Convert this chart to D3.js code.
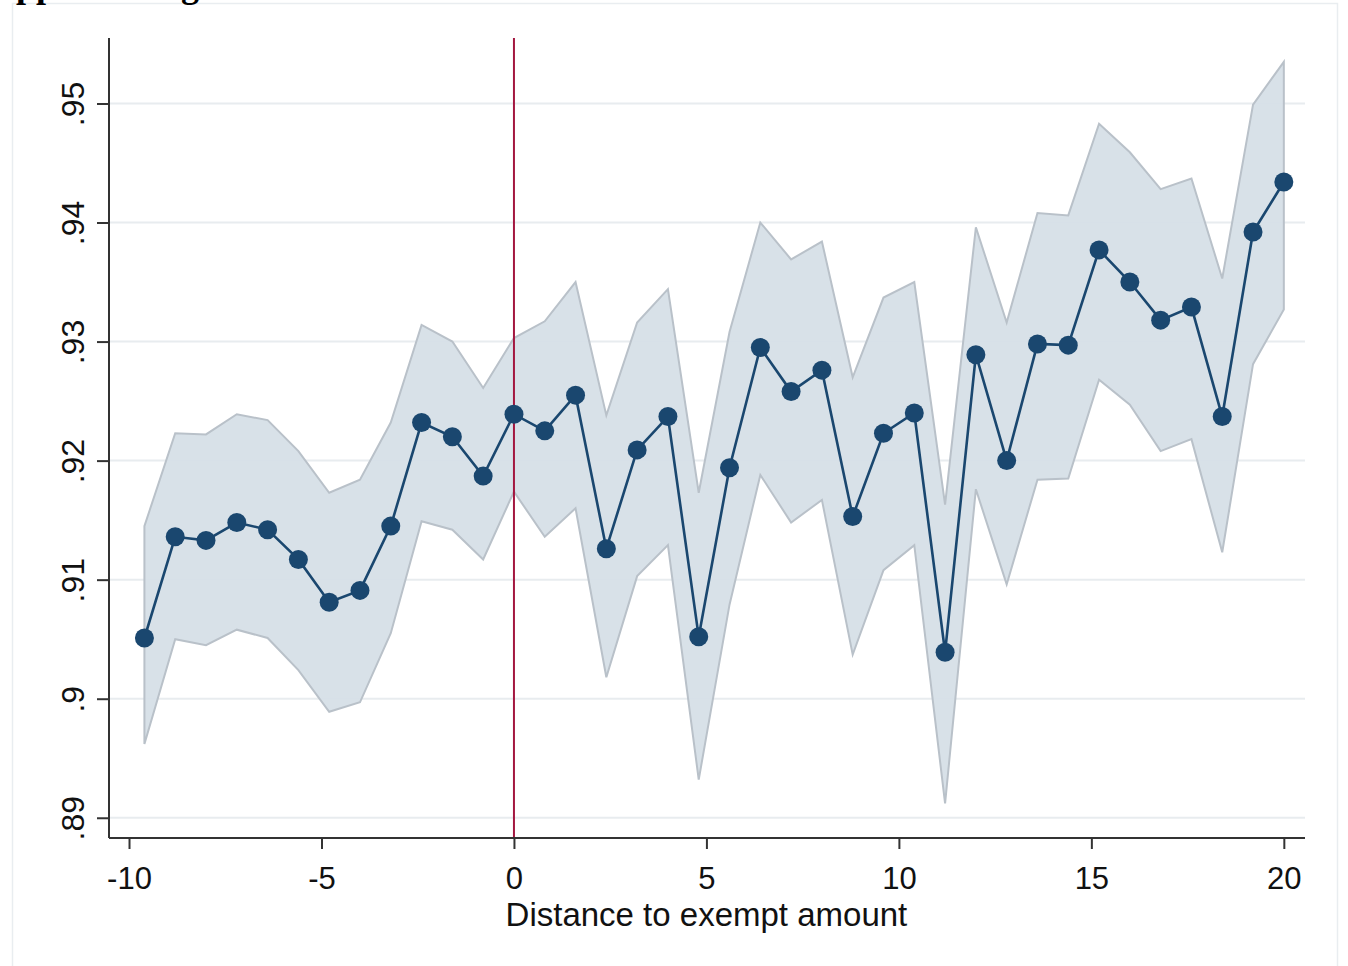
<!DOCTYPE html>
<html>
<head>
<meta charset="utf-8">
<script src="https://cdn.jsdelivr.net/npm/d3@7"></script>
<style>
  html, body { margin: 0; padding: 0; background: #ffffff; }
  svg { display: block; }
  text { font-family: "Liberation Sans", Arial, sans-serif; }
</style>
</head>
<body>
<svg id="chart" width="1348" height="966"></svg>
<script>
// ---- data ----
const distance = [-9.6,-8.8,-8.0,-7.2,-6.4,-5.6,-4.8,-4.0,-3.2,-2.4,-1.6,-0.8,0.0,0.8,1.6,2.4,3.2,4.0,4.8,5.6,
                  6.4,7.2,8.0,8.8,9.6,10.4,11.2,12.0,12.8,13.6,14.4,15.2,16.0,16.8,17.6,18.4,19.2,20.0];
const estimate = [.9051,.9136,.9133,.9148,.9142,.9117,.9081,.9091,.9145,.9232,.9220,.9187,.9239,.9225,.9255,.9126,.9209,.9237,.9052,.9194,
                  .9295,.9258,.9276,.9153,.9223,.9240,.9039,.9289,.9200,.9298,.9297,.9377,.9350,.9318,.9329,.9237,.9392,.9434];
const ciUpper  = [.9145,.9223,.9222,.9239,.9234,.9208,.9173,.9184,.9232,.9314,.9300,.9261,.9303,.9317,.9350,.9238,.9316,.9344,.9173,.9308,
                  .9400,.9369,.9384,.9270,.9337,.9350,.9163,.9396,.9316,.9408,.9406,.9483,.9459,.9428,.9437,.9353,.9499,.9535];
const ciLower  = [.8962,.9050,.9045,.9058,.9051,.9024,.8989,.8997,.9055,.9149,.9142,.9117,.9174,.9136,.9160,.9018,.9103,.9129,.8932,.9079,
                  .9188,.9148,.9167,.9037,.9108,.9129,.8912,.9176,.9096,.9184,.9185,.9268,.9247,.9208,.9218,.9123,.9281,.9327];
const xTicks = [-10, -5, 0, 5, 10, 15, 20];
const xTickLabels = ["-10", "-5", "0", "5", "10", "15", "20"];
const yTicks = [0.89, 0.90, 0.91, 0.92, 0.93, 0.94, 0.95];
const yTickLabels = [".89", ".9", ".91", ".92", ".93", ".94", ".95"];
const cutoff = [0];
const xTitle = "Distance to exempt amount";

// ---- layout ----
const svg = d3.select("#chart");
const plot = { left: 109, right: 1305, top: 38, bottom: 838 };
const x = d3.scaleLinear().domain([-10.52, 20.55]).range([plot.left, plot.right]);
const y = d3.scaleLinear().domain([0.8883, 0.9555]).range([plot.bottom, plot.top]);

const rows = distance.map((d, i) => ({ x: d, est: estimate[i], lo: ciLower[i], hi: ciUpper[i] }));

// outer graph-region frame (faint)
svg.append("rect")
  .attr("x", 12.5).attr("y", 3.5).attr("width", 1325).attr("height", 1000)
  .attr("fill", "#ffffff").attr("stroke", "#e9edf0").attr("stroke-width", 1.5);

// partially visible heading at the very top (cut off in the reference too)
svg.append("text")
  .attr("x", -10).attr("y", -3.5)
  .attr("font-weight", "bold").attr("font-size", 36).attr("fill", "#000")
  .style("font-family", "'Liberation Serif', 'Times New Roman', serif")
  .text("Appendix Figure");

// gridlines
svg.append("g").selectAll("line").data(yTicks).join("line")
  .attr("x1", plot.left).attr("x2", plot.right)
  .attr("y1", d => y(d)).attr("y2", d => y(d))
  .attr("stroke", "#e8ecef").attr("stroke-width", 2);

// confidence band
const area = d3.area().x(d => x(d.x)).y0(d => y(d.lo)).y1(d => y(d.hi));
svg.append("path").datum(rows)
  .attr("d", area)
  .attr("fill", "#d6dfe7").attr("fill-opacity", 0.95)
  .attr("stroke", "#b9c1c9").attr("stroke-width", 2).attr("stroke-linejoin", "miter");

// cutoff line
svg.append("g").selectAll("line").data(cutoff).join("line")
  .attr("x1", d => x(d)).attr("x2", d => x(d))
  .attr("y1", plot.top).attr("y2", plot.bottom)
  .attr("stroke", "#a3173f").attr("stroke-width", 2);

// estimate line and markers
const line = d3.line().x(d => x(d.x)).y(d => y(d.est));
svg.append("path").datum(rows)
  .attr("d", line).attr("fill", "none")
  .attr("stroke", "#1a476f").attr("stroke-width", 2.6);
svg.append("g").selectAll("circle").data(rows).join("circle")
  .attr("cx", d => x(d.x)).attr("cy", d => y(d.est)).attr("r", 9.5)
  .attr("fill", "#1a476f");

// y axis
const yAxis = d3.axisLeft(y).tickValues(yTicks)
  .tickFormat((d, i) => yTickLabels[i]).tickSize(12).tickPadding(0);
const gy = svg.append("g").attr("transform", `translate(${plot.left},0)`).call(yAxis);
gy.select(".domain").attr("d", `M0,${plot.top}V${plot.bottom}`)
  .attr("stroke", "#333").attr("stroke-width", 2);
gy.selectAll(".tick line").attr("stroke", "#333").attr("stroke-width", 2);
gy.selectAll(".tick text")
  .attr("font-size", 32).attr("fill", "#111")
  .attr("text-anchor", "middle")
  .attr("x", 0).attr("y", 0).attr("dy", 0)
  .attr("transform", "translate(-25,0) rotate(-90)");

// x axis
const xAxis = d3.axisBottom(x).tickValues(xTicks)
  .tickFormat((d, i) => xTickLabels[i]).tickSize(11).tickPadding(6);
const gx = svg.append("g").attr("transform", `translate(0,${plot.bottom})`).call(xAxis);
gx.select(".domain").attr("d", `M${plot.left},0H${plot.right}`)
  .attr("stroke", "#333").attr("stroke-width", 2);
gx.selectAll(".tick line").attr("stroke", "#333").attr("stroke-width", 2);
gx.selectAll(".tick text")
  .attr("font-size", 31).attr("fill", "#111")
  .attr("dy", 0).attr("y", 51);

// x title
svg.append("text")
  .attr("x", (x(-10) + x(20)) / 2).attr("y", 926)
  .attr("text-anchor", "middle").attr("font-size", 33).attr("fill", "#111")
  .text(xTitle);
</script>
</body>
</html>
